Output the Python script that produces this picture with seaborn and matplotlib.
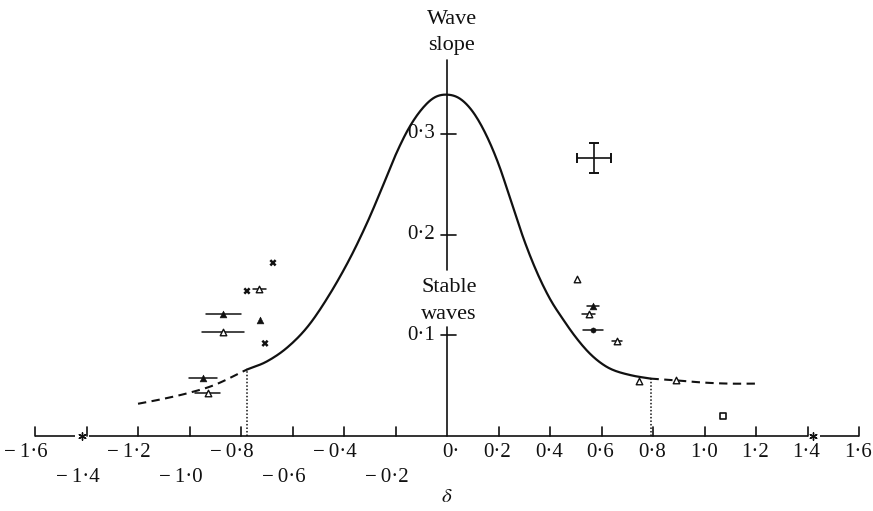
import numpy as np
import pandas as pd
import matplotlib
matplotlib.use("Agg")
import matplotlib.pyplot as plt
import seaborn as sns

# Neutral stability curve (solid part) : wave slope against delta
curve_delta = [-0.777, -0.70, -0.62, -0.54, -0.46, -0.38, -0.31, -0.25, -0.20, -0.15,
               -0.10, -0.05, 0.0, 0.05, 0.10, 0.15, 0.20, 0.25, 0.30, 0.35, 0.40,
               0.45, 0.50, 0.55, 0.60, 0.65, 0.72, 0.79]
curve_slope = [0.066, 0.074, 0.088, 0.109, 0.139, 0.175, 0.212, 0.248, 0.279, 0.305,
               0.324, 0.336, 0.339, 0.335, 0.322, 0.300, 0.270, 0.232, 0.194, 0.162, 0.136,
               0.116, 0.098, 0.083, 0.072, 0.065, 0.060, 0.057]

# Dashed continuations beyond the cut-off values of delta
dash_left_delta = [-1.2, -1.1, -1.0, -0.9, -0.777]
dash_left_slope = [0.032, 0.037, 0.043, 0.051, 0.066]
dash_right_delta = [0.79, 0.9, 1.0, 1.1, 1.2]
dash_right_slope = [0.057, 0.055, 0.053, 0.052, 0.052]

# Cut-off ordinates (dotted verticals)
cutoff_delta = [-0.777, 0.79]
cutoff_slope = [0.066, 0.057]

# Observations
cross_delta = [-0.676, -0.777, -0.707]
cross_slope = [0.172, 0.144, 0.092]

filled_tri_delta = [-0.87, -0.726, -0.947, 0.567]
filled_tri_slope = [0.121, 0.115, 0.058, 0.129]
filled_tri_xerr = [0.068, 0.0, 0.054, 0.023]

open_tri_delta = [-0.73, -0.87, -0.93, 0.505, 0.55, 0.66, 0.745, 0.89]
open_tri_slope = [0.146, 0.103, 0.043, 0.156, 0.121, 0.094, 0.055, 0.056]
open_tri_xerr = [0.025, 0.08, 0.05, 0.0, 0.025, 0.021, 0.0, 0.0]

dot_delta = [0.567]
dot_slope = [0.105]
dot_xerr = [0.039]

square_delta = [1.072]
square_slope = [0.02]

# Typical experimental error
err_delta, err_slope, err_dx, err_dy = 0.571, 0.276, 0.066, 0.015

# Axis ticks
xticks_row1 = [-1.6, -1.2, -0.8, -0.4, 0.0, 0.2, 0.4, 0.6, 0.8, 1.0, 1.2, 1.4, 1.6]
xlabels_row1 = ["\u2212\u20091·6", "\u2212\u20091·2", "\u2212\u20090·8", "\u2212\u20090·4",
                "0·", "0·2", "0·4", "0·6", "0·8", "1·0", "1·2", "1·4", "1·6"]
xticks_row2 = [-1.4, -1.0, -0.6, -0.2]
xlabels_row2 = ["\u2212\u20091·4", "\u2212\u20091·0", "\u2212\u20090·6", "\u2212\u20090·2"]
yticks = [0.1, 0.2, 0.3]
ylabels = ["0·1", "0·2", "0·3"]
star_delta = [-1.417, 1.421]


def smooth(xs, ys, n=12):
    """Catmull-Rom path through the given points, for a smooth pen line."""
    p = np.column_stack([xs, ys]).astype(float)
    p = np.vstack([p[0] * 2 - p[1], p, p[-1] * 2 - p[-2]])
    out = []
    t = np.linspace(0, 1, n, endpoint=False)[:, None]
    for i in range(1, len(p) - 2):
        p0, p1, p2, p3 = p[i - 1], p[i], p[i + 1], p[i + 2]
        seg = 0.5 * ((2 * p1) + (-p0 + p2) * t + (2 * p0 - 5 * p1 + 4 * p2 - p3) * t ** 2
                     + (-p0 + 3 * p1 - 3 * p2 + p3) * t ** 3)
        out.append(seg)
    out.append(p[-2][None, :])
    out = np.vstack(out)
    return out[:, 0], out[:, 1]


sns.set_theme(style="white")
plt.rcParams["font.family"] = ["Liberation Serif", "DejaVu Serif"]
plt.rcParams["mathtext.fontset"] = "stix"

fig = plt.figure(figsize=(8.73, 5.11), dpi=100)
ax = fig.add_axes([0, 0, 1, 1])
ax.set_xlim(-1.736, 1.654)
ax.set_ylim(-0.0745, 0.433)
ax.axis("off")

ink = "#111111"
fs = 15

# --- axes drawn in data coordinates ---
seg_x = [(-1.6, -1.445), (-1.39, 1.4), (1.449, 1.6)]
for a, b in seg_x:
    ax.plot([a, b], [0, 0], color=ink, lw=1.2, solid_capstyle="butt")
all_xticks = sorted(set(xticks_row1 + xticks_row2))
for t in all_xticks:
    if abs(t) < 1e-9:
        continue
    ax.plot([t, t], [0, 0.009], color=ink, lw=1.2)
ax.scatter(star_delta, [0.0, 0.0], marker=(6, 2, 0), s=28, color=ink, linewidths=1.0, zorder=3)

# vertical axis with a gap for the "Stable waves" note
ax.plot([0, 0], [0, 0.108], color=ink, lw=1.2)
ax.plot([0, 0], [0.165, 0.373], color=ink, lw=1.2)
for t in yticks:
    ax.plot([-0.025, 0.033], [t, t], color=ink, lw=1.2)

for t, lab in zip(xticks_row1, xlabels_row1):
    ax.text(t + 0.05, -0.0165, lab, ha="right", va="center", fontsize=fs, color=ink)
for t, lab in zip(xticks_row2, xlabels_row2):
    ax.text(t + 0.05, -0.041, lab, ha="right", va="center", fontsize=fs, color=ink)
for t, lab in zip(yticks, ylabels):
    ax.text(-0.045, t, lab, ha="right", va="center", fontsize=fs, color=ink)

ax.text(0.018, 0.414, "Wave", ha="center", va="center", fontsize=16, color=ink)
ax.text(0.018, 0.388, "slope", ha="center", va="center", fontsize=16, color=ink)
ax.text(0.008, 0.147, "Stable", ha="center", va="center", fontsize=16, color=ink)
ax.text(0.008, 0.121, "waves", ha="center", va="center", fontsize=16, color=ink)
ax.text(0.0, -0.061, r"$\delta$", ha="center", va="center", fontsize=15, color=ink)

# --- stability curve ---
cx, cy = smooth(curve_delta, curve_slope)
curve = pd.DataFrame({"delta": cx, "slope": cy})
sns.lineplot(data=curve, x="delta", y="slope", sort=False, estimator=None,
             color=ink, lw=1.6, ax=ax)
lx, ly = smooth(dash_left_delta, dash_left_slope)
rx, ry = smooth(dash_right_delta, dash_right_slope)
ax.plot(lx, ly, color=ink, lw=1.5, ls=(0, (4, 2.6)))
ax.plot(rx, ry, color=ink, lw=1.5, ls=(0, (4, 2.6)))
for d, s in zip(cutoff_delta, cutoff_slope):
    ax.plot([d, d], [0, s], color=ink, lw=1.1, ls=(0, (1, 1.3)))

# --- observations ---
def bars(dx, dy, err):
    for x, y, e in zip(dx, dy, err):
        if e > 0:
            ax.plot([x - e, x + e], [y, y], color=ink, lw=1.1)

bars(filled_tri_delta, filled_tri_slope, filled_tri_xerr)
bars(open_tri_delta, open_tri_slope, open_tri_xerr)
bars(dot_delta, dot_slope, dot_xerr)

sns.scatterplot(x=cross_delta, y=cross_slope, marker="X", s=26, color=ink,
                edgecolor="none", ax=ax, zorder=4)
sns.scatterplot(x=filled_tri_delta, y=filled_tri_slope, marker="^", s=24, color=ink,
                edgecolor=ink, ax=ax, zorder=4)
sns.scatterplot(x=open_tri_delta, y=open_tri_slope, marker="^", s=22, color="white",
                edgecolor=ink, linewidth=1.0, ax=ax, zorder=4)
sns.scatterplot(x=dot_delta, y=dot_slope, marker="o", s=14, color=ink,
                edgecolor=ink, ax=ax, zorder=4)
sns.scatterplot(x=square_delta, y=square_slope, marker="s", s=16, color="white",
                edgecolor=ink, linewidth=1.2, ax=ax, zorder=4)

ax.errorbar([err_delta], [err_slope], xerr=[err_dx], yerr=[err_dy], fmt="none",
            ecolor=ink, elinewidth=1.2, capsize=3.5, capthick=1.4)

if ax.get_legend() is not None:
    ax.get_legend().remove()

fig.savefig("out.png", dpi=100)
